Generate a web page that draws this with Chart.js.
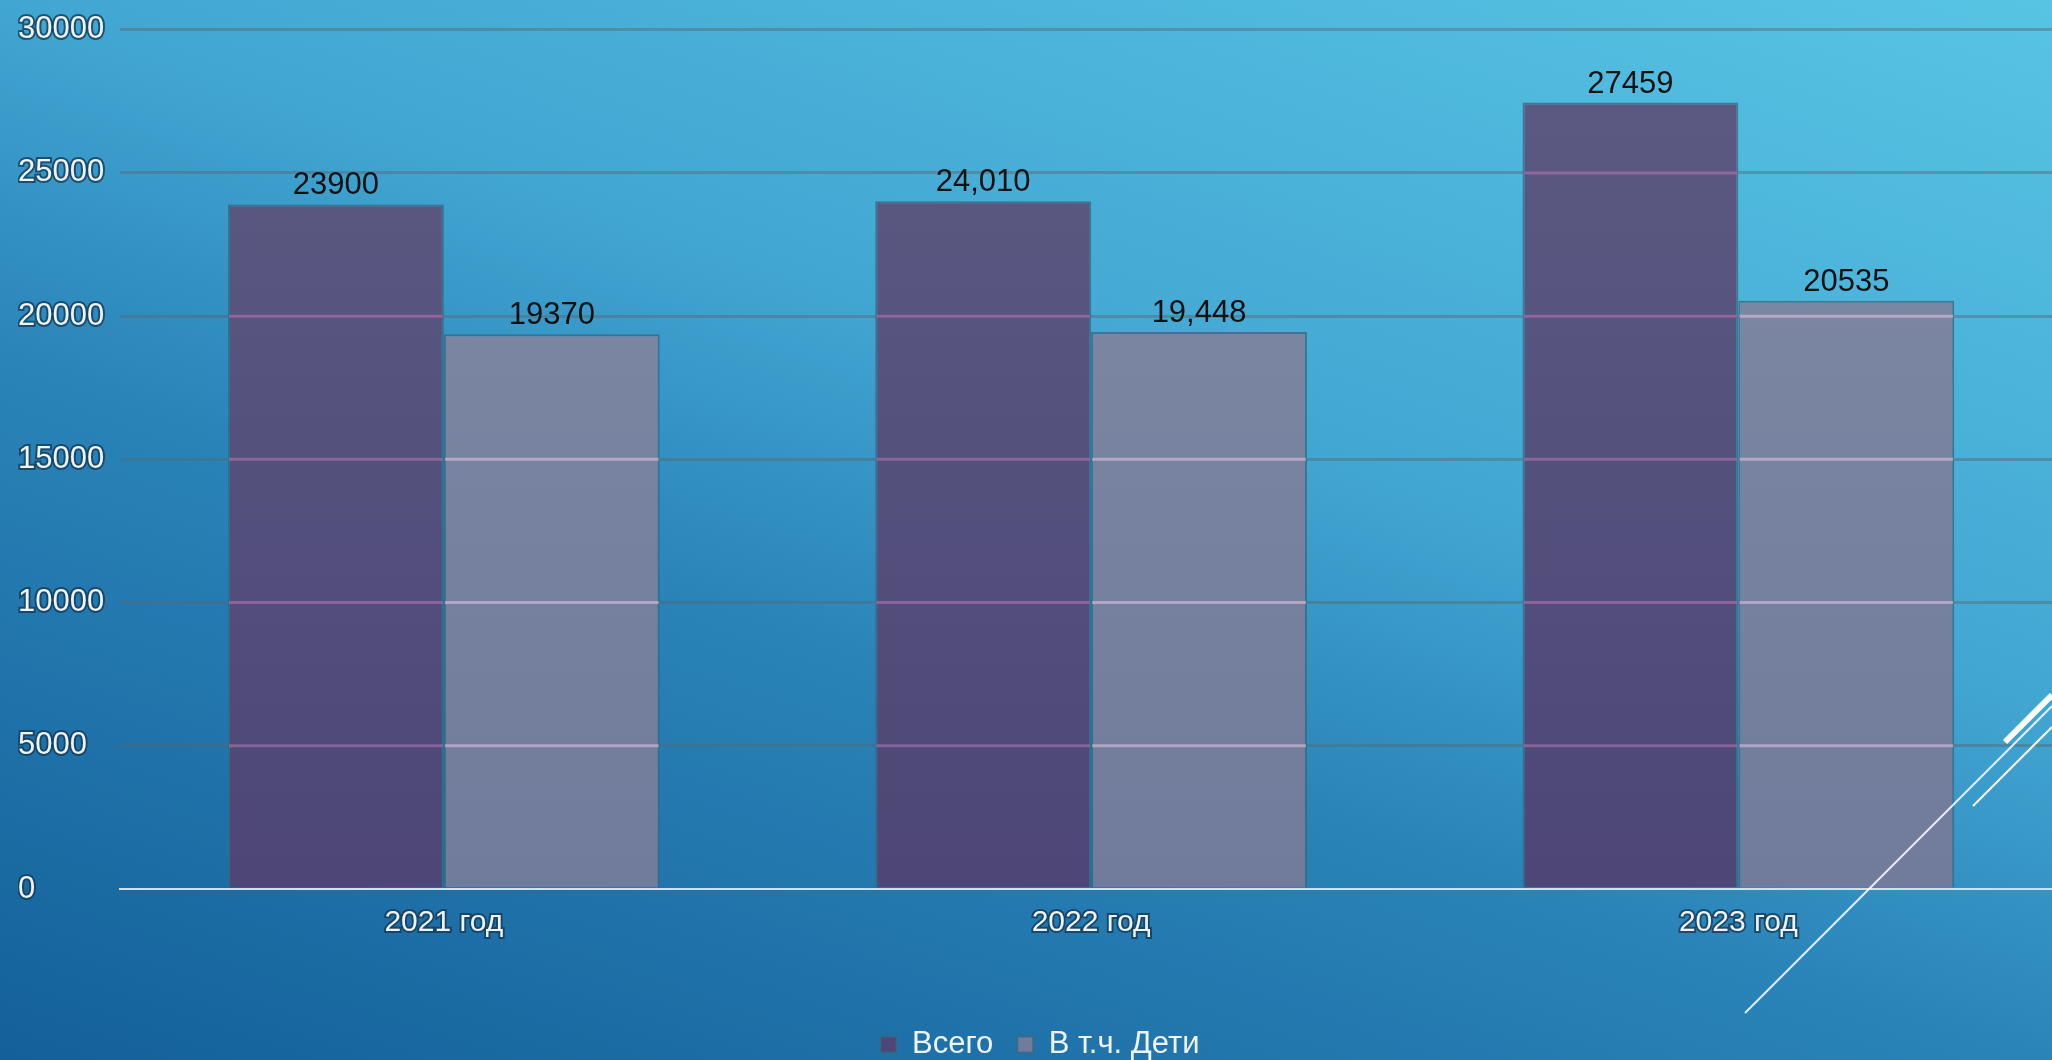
<!DOCTYPE html>
<html lang="ru">
<head>
<meta charset="utf-8">
<title>Всего / В т.ч. Дети</title>
<script src="https://cdn.jsdelivr.net/npm/chart.js@4.4.1/dist/chart.umd.min.js"></script>
<style>
    html, body {
        margin: 0;
        padding: 0;
        width: 2052px;
        height: 1060px;
        overflow: hidden;
    }
    body {
        position: relative;
        background: linear-gradient(19deg, #14609a 0%, #2a84b8 40%, #42a6d2 60%, #58c4e4 100%);
    }
    #grafico {
        position: absolute;
        left: 0;
        top: 0;
    }
    #decor {
        position: absolute;
        left: 0;
        top: 0;
        pointer-events: none;
    }
</style>
</head>
<body>
<canvas id="grafico" width="2062" height="1060"></canvas>
<svg id="decor" width="2052" height="1060">
    <line x1="1745" y1="1013" x2="2052" y2="706" stroke="#ffffff" stroke-opacity="0.85" stroke-width="2"/>
    <line x1="1973" y1="806" x2="2052" y2="727" stroke="#ffffff" stroke-width="2"/>
    <line x1="2005" y1="742" x2="2052" y2="695" stroke="#ffffff" stroke-width="6"/>
</svg>
<script>
var anios = ['2021 год', '2022 год', '2023 год'];
var totalVsego = [23900, 24010, 27459];
var totalDeti = [19370, 19448, 20535];
var etiquetasVsego = ['23900', '24,010', '27459'];
var etiquetasDeti = ['19370', '19,448', '20535'];
var ticksY = ['0', '5000', '10000', '15000', '20000', '25000', '30000'];

function degradado(arriba, abajo) {
    return function (context) {
        var area = context.chart.chartArea;
        if (!area) {
            return abajo;
        }
        var g = context.chart.ctx.createLinearGradient(0, area.top, 0, area.bottom);
        g.addColorStop(0, arriba);
        g.addColorStop(1, abajo);
        return g;
    };
}

// lineas rosadas donde la rejilla pasa por detras de las barras
var rejillaBarras = {
    id: 'rejillaBarras',
    afterDatasetsDraw: function (chart) {
        var ctx = chart.ctx;
        var y = chart.scales.y;
        var colores = ['rgba(175,115,175,0.6)', 'rgba(220,190,220,0.6)'];
        ctx.save();
        ctx.lineWidth = 3;
        chart.data.datasets.forEach(function (ds, i) {
            chart.getDatasetMeta(i).data.forEach(function (bar) {
                var p = bar.getProps(['x', 'y', 'base', 'width'], true);
                y.ticks.forEach(function (t) {
                    var py = y.getPixelForValue(t.value);
                    if (t.value > 0 && py > p.y + 2 && py < p.base) {
                        ctx.strokeStyle = colores[i];
                        ctx.beginPath();
                        ctx.moveTo(p.x - p.width / 2 + 1, py);
                        ctx.lineTo(p.x + p.width / 2 - 1, py);
                        ctx.stroke();
                    }
                });
            });
        });
        ctx.restore();
    }
};

var etiquetasValores = {
    id: 'etiquetasValores',
    afterDatasetsDraw: function (chart) {
        var ctx = chart.ctx;
        var textos = [etiquetasVsego, etiquetasDeti];
        ctx.save();
        ctx.font = '31px "Liberation Sans", Arial, sans-serif';
        ctx.fillStyle = '#111111';
        ctx.textAlign = 'center';
        ctx.textBaseline = 'bottom';
        chart.data.datasets.forEach(function (ds, i) {
            chart.getDatasetMeta(i).data.forEach(function (bar, j) {
                ctx.fillText(textos[i][j], bar.x, bar.y - 3);
            });
        });
        ctx.restore();
    }
};

var ctx = document.getElementById('grafico').getContext('2d');
var myChart = new Chart(ctx, {
    type: 'bar',
    data: {
        labels: anios,
        datasets: [{
            label: 'Всего',
            data: totalVsego,
            backgroundColor: degradado('#5c5b83', '#4d4676'),
            borderColor: 'rgba(55,105,130,0.8)',
            borderWidth: 2
        }, {
            label: 'В т.ч. Дети',
            data: totalDeti,
            backgroundColor: degradado('#7f8ba6', '#717b9b'),
            borderColor: 'rgba(55,105,130,0.8)',
            borderWidth: 2
        }]
    },
    options: {
        responsive: false,
        animation: false,
        devicePixelRatio: 1,
        categoryPercentage: 0.667,
        barPercentage: 1.0,
        layout: {
            padding: { left: 18, top: 10, right: 0, bottom: -10 }
        },
        plugins: {
            tooltip: { enabled: false },
            legend: {
                position: 'bottom',
                labels: {
                    color: '#eef3f6',
                    font: { family: '"Liberation Sans", Arial, sans-serif', size: 31 },
                    boxWidth: 16,
                    boxHeight: 16,
                    padding: 24
                }
            }
        },
        scales: {
            x: {
                grid: { display: false },
                border: { display: true, color: '#d3dee6', width: 2 },
                ticks: {
                    color: '#eef3f6',
                    font: { family: '"Liberation Sans", Arial, sans-serif', size: 30 },
                    padding: 8,
                    textStrokeColor: 'rgba(20,60,90,0.8)',
                    textStrokeWidth: 4
                },
                afterFit: function (scale) {
                    scale.height = 116;
                }
            },
            y: {
                min: 0,
                max: 30000,
                border: { display: false },
                grid: {
                    drawTicks: false,
                    lineWidth: 3,
                    color: function (c) {
                        return c.tick && c.tick.value === 0 ? 'rgba(0,0,0,0)' : 'rgba(85,105,110,0.45)';
                    }
                },
                ticks: {
                    stepSize: 5000,
                    padding: 8,
                    crossAlign: 'far',
                    color: '#eef3f6',
                    font: { family: '"Liberation Sans", Arial, sans-serif', size: 31, lineHeight: 1.4 },
                    textStrokeColor: 'rgba(20,60,90,0.8)',
                    textStrokeWidth: 4,
                    callback: function (value, index) {
                        return ticksY[index];
                    }
                }
            }
        }
    },
    plugins: [rejillaBarras, etiquetasValores]
});
</script>
</body>
</html>
